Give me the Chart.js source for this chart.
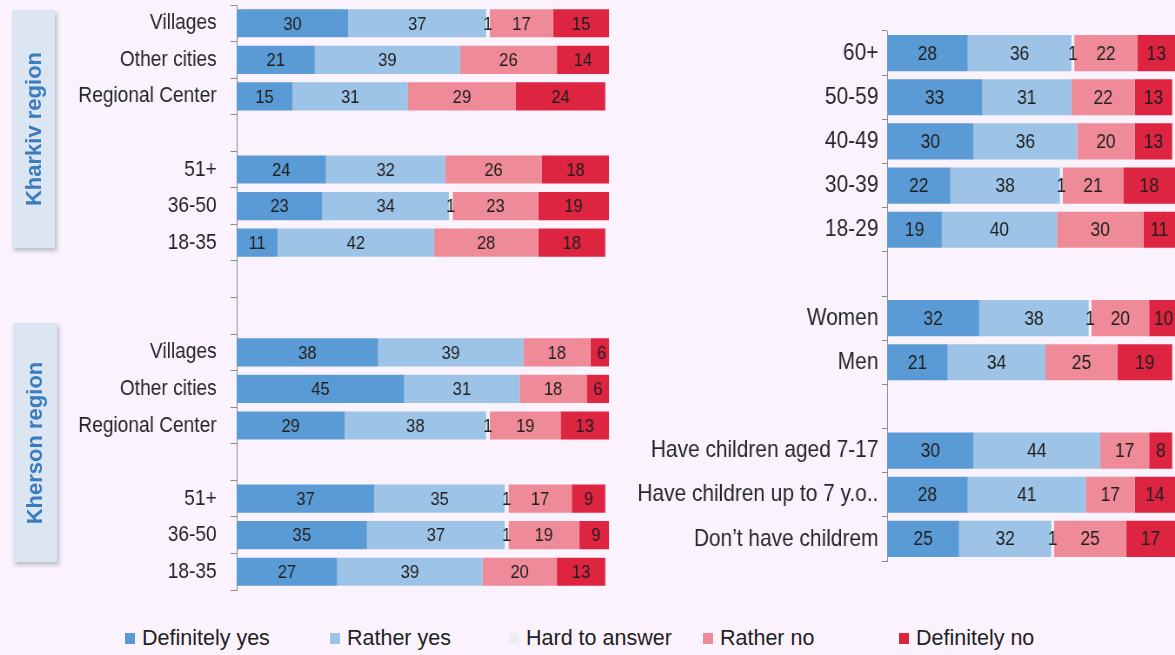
<!DOCTYPE html>
<html>
<head>
<meta charset="utf-8">
<script src="https://cdn.jsdelivr.net/npm/chart.js@4.4.1/dist/chart.umd.min.js"></script>
<style>
  html, body { margin: 0; padding: 0; background: #faf3fd; width: 1175px; height: 655px; overflow: hidden; }
  /* both panels use a slightly condensed typeface look: drawn wider, then squeezed horizontally */
  canvas { position: absolute; top: 0; transform-origin: 0 0; transform: scaleX(0.87); }
  #leftChart { left: 0; }
  #rightChart { left: 620px; }
  .region { position: absolute; background: #dbe6f2; box-shadow: 2px 3px 4px rgba(70, 85, 110, 0.35); }
  .region span { position: absolute; left: 50%; top: 50%; transform: translate(-50%, -50%) rotate(-90deg);
    white-space: nowrap; font: bold 22px "Liberation Sans", Arial, sans-serif; color: #3a7cbd; }
  .legend-item { position: absolute; top: 625px; height: 26px; display: flex; align-items: center;
    font: 21.5px "Liberation Sans", Arial, sans-serif; color: #222; white-space: nowrap; }
  .legend-item i { display: inline-block; width: 10px; height: 11px; margin-right: 7px; }
</style>
</head>
<body>
<canvas id="leftChart" width="713" height="600"></canvas>
<canvas id="rightChart" width="638" height="600"></canvas>
<div class="region" style="left:12px;top:10px;width:43px;height:238px"><span>Kharkiv region</span></div>
<div class="region" style="left:13px;top:323px;width:44px;height:239px"><span>Kherson region</span></div>
<div id="legend"></div>
<script>
// Answer options and their colours
const seriesNames = ['Definitely yes', 'Rather yes', 'Hard to answer', 'Rather no', 'Definitely no'];
const seriesColors = ['#5b9bd5', '#9dc3e6', '#f4f2f5', '#ef8a98', '#dd2541'];

// Left panel: Kharkiv region (top) and Kherson region (bottom); '' rows are spacers
const leftCategories = ['Villages', 'Other cities', 'Regional Center', '', '51+', '36-50', '18-35', '', '',
  'Villages', 'Other cities', 'Regional Center', '', '51+', '36-50', '18-35'];
const leftDefinitelyYes = [30, 21, 15, null, 24, 23, 11, null, null, 38, 45, 29, null, 37, 35, 27];
const leftRatherYes     = [37, 39, 31, null, 32, 34, 42, null, null, 39, 31, 38, null, 35, 37, 39];
const leftHardToAnswer  = [1, 0, 0, null, 0, 1, 0, null, null, 0, 0, 1, null, 1, 1, 0];
const leftRatherNo      = [17, 26, 29, null, 26, 23, 28, null, null, 18, 18, 19, null, 17, 19, 20];
const leftDefinitelyNo  = [15, 14, 24, null, 18, 19, 18, null, null, 6, 6, 13, null, 9, 9, 13];

// Right panel: age, gender, children
const rightCategories = ['60+', '50-59', '40-49', '30-39', '18-29', '', 'Women', 'Men', '',
  'Have children aged 7-17', 'Have children up to 7 y.o..', 'Don\u2019t have childrem'];
const rightDefinitelyYes = [28, 33, 30, 22, 19, null, 32, 21, null, 30, 28, 25];
const rightRatherYes     = [36, 31, 36, 38, 40, null, 38, 34, null, 44, 41, 32];
const rightHardToAnswer  = [1, 0, 0, 1, 0, null, 1, 0, null, 0, 0, 1];
const rightRatherNo      = [22, 22, 20, 21, 30, null, 20, 25, null, 17, 17, 25];
const rightDefinitelyNo  = [13, 13, 13, 18, 11, null, 10, 19, null, 8, 14, 17];

const FONT = '"Liberation Sans", Arial, sans-serif';

// Writes each non-zero value in the middle of its bar segment
const valueLabels = {
  id: 'valueLabels',
  afterDatasetsDraw(chart, args, opts) {
    const ctx = chart.ctx;
    ctx.save();
    ctx.font = opts.size + 'px ' + FONT;
    ctx.fillStyle = '#1f1f1f';
    ctx.textAlign = 'center';
    ctx.textBaseline = 'middle';
    chart.data.datasets.forEach((ds, di) => {
      const meta = chart.getDatasetMeta(di);
      meta.data.forEach((el, i) => {
        const v = ds.data[i];
        if (!v) return;
        const p = el.getProps(['x', 'base', 'y'], true);
        ctx.fillText(String(v), (p.x + p.base) / 2, p.y + 1);
      });
    });
    ctx.restore();
  }
};

function buildDatasets(cols) {
  return cols.map((data, k) => ({
    label: seriesNames[k],
    data: data,
    backgroundColor: seriesColors[k],
    borderWidth: 0
  }));
}

function makeChart(id, labels, cols, cfg) {
  return new Chart(document.getElementById(id), {
    type: 'bar',
    data: { labels: labels, datasets: buildDatasets(cols) },
    options: {
      indexAxis: 'y',
      responsive: false,
      animation: false,
      events: [],
      layout: { padding: cfg.padding },
      datasets: { bar: { barPercentage: cfg.barPct, categoryPercentage: 1 } },
      plugins: {
        legend: { display: false },
        tooltip: { enabled: false },
        valueLabels: { size: cfg.valueSize }
      },
      scales: {
        x: { stacked: true, min: 0, max: 100, display: false },
        y: {
          stacked: true,
          grid: { drawOnChartArea: false, offset: true, tickLength: cfg.tickLen, color: '#8a8a8a', lineWidth: 1 },
          border: { color: '#8a8a8a', width: 1 },
          ticks: { autoSkip: false, padding: cfg.tickPad, color: '#262626', font: { family: FONT, size: cfg.labelSize } },
          afterFit(scale) {
            scale.width = cfg.axisWidth;
            scale.paddingTop = 0;
            scale.paddingBottom = 0;
          }
        }
      }
    },
    plugins: [valueLabels]
  });
}

makeChart('leftChart', leftCategories,
  [leftDefinitelyYes, leftRatherYes, leftHardToAnswer, leftRatherNo, leftDefinitelyNo],
  { padding: { top: 5, right: 13, bottom: 10, left: 0 }, barPct: 0.77, valueSize: 19,
    tickLen: 7, tickPad: 16, labelSize: 22, axisWidth: 272 });

makeChart('rightChart', rightCategories,
  [rightDefinitelyYes, rightRatherYes, rightHardToAnswer, rightRatherNo, rightDefinitelyNo],
  { padding: { top: 31, right: 0, bottom: 39, left: 0 }, barPct: 0.82, valueSize: 20,
    tickLen: 6, tickPad: 4, labelSize: 24, axisWidth: 307 });

// Legend row under both panels
const legendX = [125, 330, 509, 703, 899];
const legend = document.getElementById('legend');
seriesNames.forEach((name, k) => {
  const item = document.createElement('div');
  item.className = 'legend-item';
  item.style.left = legendX[k] + 'px';
  const sw = document.createElement('i');
  sw.style.background = k === 2 ? '#eeeeee' : seriesColors[k];
  item.appendChild(sw);
  item.appendChild(document.createTextNode(name));
  legend.appendChild(item);
});
</script>
</body>
</html>
